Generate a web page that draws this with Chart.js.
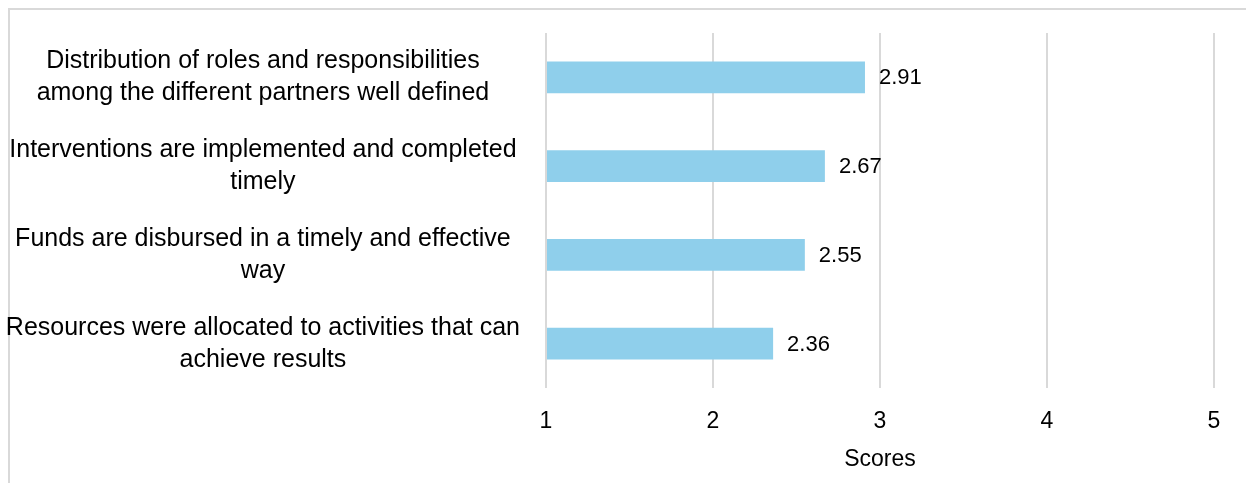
<!DOCTYPE html>
<html>
<head>
<meta charset="utf-8">
<script src="https://cdn.jsdelivr.net/npm/chart.js@4"></script>
<style>
  body { margin: 0; background: #fff; }
  #wrap { width: 1246px; height: 483px; }
</style>
</head>
<body>
<div id="wrap"><canvas id="graficaScores" width="1246" height="483"></canvas></div>
<script>
// datos del grafico
const categorias = [
    ['Distribution of roles and responsibilities', 'among the different partners well defined'],
    ['Interventions are implemented and completed', 'timely'],
    ['Funds are disbursed in a timely and effective', 'way'],
    ['Resources were allocated to activities that can', 'achieve results']
];
const puntajes = [2.91, 2.67, 2.55, 2.36];
const ticksX = [1, 2, 3, 4, 5];
const tituloX = 'Scores';

// marco gris arriba e izquierda
const marco = {
    id: 'marco',
    beforeDraw(chart) {
        const c = chart.ctx;
        c.save();
        c.strokeStyle = '#d9d9d9';
        c.lineWidth = 2;
        c.beginPath();
        c.moveTo(9, 483);
        c.lineTo(9, 9);
        c.lineTo(1246, 9);
        c.stroke();
        c.restore();
    }
};

// etiquetas de valor al final de cada barra
const etiquetas = {
    id: 'etiquetas',
    afterDatasetsDraw(chart) {
        const c = chart.ctx;
        const meta = chart.getDatasetMeta(0);
        c.save();
        c.font = '22px "Liberation Sans", Arial, sans-serif';
        c.fillStyle = '#000';
        c.textAlign = 'left';
        c.textBaseline = 'middle';
        meta.data.forEach((bar, i) => {
            c.fillText(puntajes[i].toFixed(2), bar.x + 14, bar.y + 1);
        });
        c.restore();
    }
};

const ctx = document.getElementById('graficaScores').getContext('2d');
new Chart(ctx, {
    type: 'bar',
    data: {
        labels: categorias,
        datasets: [{
            label: tituloX,
            data: puntajes,
            base: 1,
            backgroundColor: '#8fcfeb',
            borderWidth: 0,
            barPercentage: 0.36,
            categoryPercentage: 1
        }]
    },
    options: {
        indexAxis: 'y',
        responsive: false,
        animation: false,
        layout: { padding: { top: 33, right: 32, bottom: 10, left: 0 } },
        plugins: {
            legend: { display: false },
            tooltip: { enabled: false }
        },
        scales: {
            x: {
                min: 1,
                max: 5,
                afterBuildTicks: (scale) => { scale.ticks = ticksX.map(v => ({ value: v })); },
                afterFit: (scale) => { scale.height = 85; },
                grid: { color: '#d9d9d9', lineWidth: 2, drawTicks: false },
                border: { display: false },
                ticks: {
                    padding: 20,
                    color: '#000',
                    font: { family: '"Liberation Sans", Arial, sans-serif', size: 23 }
                },
                title: {
                    display: true,
                    text: tituloX,
                    color: '#000',
                    padding: { top: 10, bottom: 0 },
                    font: { family: '"Liberation Sans", Arial, sans-serif', size: 23 }
                }
            },
            y: {
                grid: { display: false, drawTicks: false },
                border: { display: false },
                afterFit: (scale) => {
                    scale.width = 546;
                    scale.paddingTop = 0;
                    scale.paddingBottom = 0;
                },
                ticks: {
                    padding: 26,
                    crossAlign: 'center',
                    color: '#000',
                    font: { family: '"Liberation Sans", Arial, sans-serif', size: 25, lineHeight: 1.28 }
                }
            }
        }
    },
    plugins: [marco, etiquetas]
});
</script>
</body>
</html>
